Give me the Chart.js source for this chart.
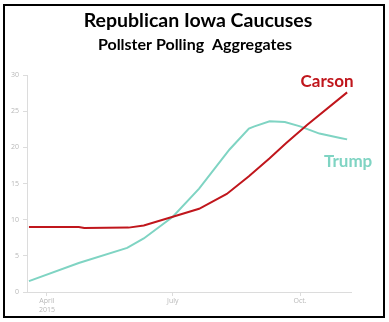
<!DOCTYPE html>
<html lang="en">
<head>
    <meta charset="utf-8">
    <title>Republican Iowa Caucuses</title>
    <script src="https://cdn.jsdelivr.net/npm/chart.js"></script>
    <style>
        body { margin: 0; background: #fff; }
        #wrap { position: relative; width: 389px; height: 322px; }
    </style>
</head>
<body>
    <div id="wrap">
        <canvas id="pollChart" width="389" height="322"></canvas>
    </div>

    <script>
        // poll averages (percent), Pollster aggregate, 2015
        const carsonDates = ['2015-03-19', '2015-04-24', '2015-04-28', '2015-05-30', '2015-06-10', '2015-07-01',
            '2015-07-20', '2015-08-09', '2015-08-25', '2015-09-09', '2015-09-21', '2015-10-06', '2015-11-04'];
        const carsonValues = [9.0, 9.0, 8.85, 8.9, 9.2, 10.4, 11.5, 13.55, 16.0, 18.5, 20.6, 23.1, 27.6];

        const trumpDates = ['2015-03-19', '2015-04-24', '2015-05-29', '2015-06-10', '2015-07-01', '2015-07-20',
            '2015-08-11', '2015-08-25', '2015-08-29', '2015-09-09', '2015-09-20', '2015-10-01', '2015-10-15',
            '2015-10-30', '2015-11-04'];
        const trumpValues = [1.5, 4.0, 6.1, 7.4, 10.4, 14.3, 19.7, 22.6, 22.9, 23.6, 23.5, 22.9, 21.9, 21.3, 21.1];

        const tickDates = ['2015-04-01', '2015-07-01', '2015-10-01'];
        const tickLabels = [['April', '2015'], 'July', 'Oct.'];

        const titleText = 'Republican Iowa Caucuses';
        const subtitleText = 'Pollster Polling  Aggregates';

        const RED = '#c0161c';
        const TEAL = '#7fd4c3';

        // days since Jan 1 2015
        const dayNum = (s) => {
            const [y, m, d] = s.split('-').map(Number);
            return (Date.UTC(y, m - 1, d) - Date.UTC(2015, 0, 1)) / 864e5;
        };

        const toPoints = (dates, vals) => dates.map((d, i) => ({ x: dayNum(d), y: vals[i] }));
        const tickDays = tickDates.map(dayNum);

        // title, series names and the frame
        const decorations = {
            id: 'decorations',
            afterDraw(chart) {
                const c = chart.ctx;
                c.save();
                c.textAlign = 'center';
                c.textBaseline = 'alphabetic';
                c.fillStyle = '#000';
                c.font = 'bold 19.5px Lato';
                c.fillText(titleText, 198, 27);
                c.font = 'bold 16px Lato';
                c.fillText(subtitleText, 195, 50);

                const xs = chart.scales.x, ys = chart.scales.y;
                const cEnd = carsonValues.length - 1;
                const tEnd = trumpValues.length - 1;
                c.font = 'bold 17px Lato';
                c.fillStyle = RED;
                c.fillText('Carson', xs.getPixelForValue(dayNum(carsonDates[cEnd])) - 20,
                    ys.getPixelForValue(carsonValues[cEnd]) - 5);
                c.fillStyle = TEAL;
                c.fillText('Trump', xs.getPixelForValue(dayNum(trumpDates[tEnd])) + 1,
                    ys.getPixelForValue(trumpValues[tEnd]) + 28);

                c.strokeStyle = '#000';
                c.lineWidth = 2;
                c.strokeRect(4, 5, 380, 312);
                c.restore();
            }
        };

        const ctx = document.getElementById('pollChart').getContext('2d');
        const pollChart = new Chart(ctx, {
            type: 'line',
            data: {
                datasets: [{
                    label: 'Carson',
                    data: toPoints(carsonDates, carsonValues),
                    borderColor: RED,
                    borderWidth: 2,
                    pointRadius: 0,
                    tension: 0
                }, {
                    label: 'Trump',
                    data: toPoints(trumpDates, trumpValues),
                    borderColor: TEAL,
                    borderWidth: 2,
                    pointRadius: 0,
                    tension: 0
                }]
            },
            options: {
                responsive: false,
                animation: false,
                layout: { padding: { left: 4, right: 38, top: 75, bottom: 6 } },
                plugins: {
                    legend: { display: false },
                    tooltip: { enabled: false }
                },
                scales: {
                    x: {
                        type: 'linear',
                        min: 75.6,
                        max: 309.8,
                        grid: { drawOnChartArea: false, color: '#dcdcdc', tickLength: 4 },
                        border: { color: '#dcdcdc', width: 1 },
                        ticks: {
                            color: '#b8b8b8',
                            font: { family: 'Open Sans', size: 7 },
                            padding: 1,
                            maxRotation: 0,
                            callback: (v) => {
                                const i = tickDays.indexOf(v);
                                return i >= 0 ? tickLabels[i] : '';
                            }
                        },
                        afterBuildTicks: (scale) => {
                            scale.ticks = tickDays.map(v => ({ value: v }));
                        },
                        afterFit: (scale) => { scale.height = 24; }
                    },
                    y: {
                        min: 0,
                        max: 30,
                        grid: { drawOnChartArea: false, color: '#dcdcdc', tickLength: 4 },
                        border: { color: '#dcdcdc', width: 1 },
                        ticks: {
                            stepSize: 5,
                            color: '#b8b8b8',
                            font: { family: 'Open Sans', size: 7 },
                            padding: 4
                        },
                        afterFit: (scale) => { scale.width = 23; }
                    }
                }
            },
            plugins: [decorations]
        });
    </script>
</body>
</html>
